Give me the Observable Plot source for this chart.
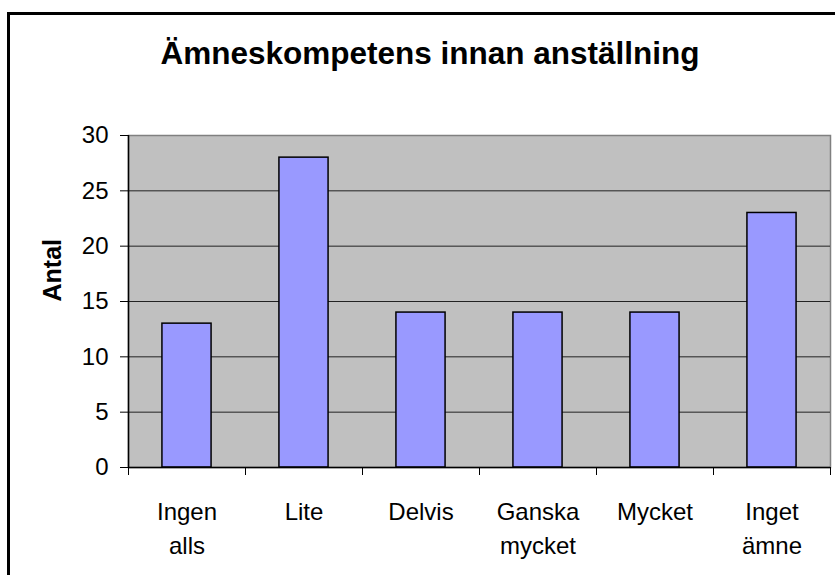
<!DOCTYPE html>
<html>
<head>
<meta charset="utf-8">
<script src="https://cdn.jsdelivr.net/npm/d3@7"></script>
<script src="https://cdn.jsdelivr.net/npm/@observablehq/plot@0.6"></script>
<style>
  html, body { margin: 0; padding: 0; background: #fff; overflow: hidden; width: 835px; height: 575px; }
  #wrap { position: relative; width: 835px; height: 575px; overflow: hidden; }
  #border { position: absolute; left: 7px; top: 12px; width: 1000px; height: 800px; border-top: 3px solid #000; border-left: 3px solid #000; border-right: none; border-bottom: none; box-sizing: border-box; }
  #title { position: absolute; left: 0; top: 37px; width: 835px; padding-left: 25px; box-sizing: border-box; text-align: center; font: bold 31.5px "Liberation Sans", Arial, sans-serif; line-height: 32px; color: #000; }
  #chart { position: absolute; left: 0; top: 0; width: 835px; height: 575px; overflow: hidden; }
  #chart svg { display: block; }
</style>
</head>
<body>
<div id="wrap">
  <div id="border"></div>
  <div id="chart"></div>
  <div id="title"></div>
</div>
<script>
const title = "Ämneskompetens innan anställning";
const yLabel = "Antal";
const categories = ["Ingen\nalls", "Lite", "Delvis", "Ganska\nmycket", "Mycket", "Inget\nämne"];
const values = [13, 28, 14, 14, 14, 23];
const yTicks = [0, 5, 10, 15, 20, 25, 30];
const gridValues = [5, 10, 15, 20, 25];

const data = categories.map((c, i) => ({ label: c, value: values[i], i }));
const xBoundaries = d3.range(0, categories.length + 1);

document.getElementById("title").textContent = title;

const chart = Plot.plot({
  width: 835,
  height: 575,
  marginLeft: 128,
  marginRight: 5,
  marginTop: 135,
  marginBottom: 108,
  style: { fontFamily: "'Liberation Sans', Arial, sans-serif", fontSize: "24px", background: "transparent", color: "#000" },
  x: { type: "linear", domain: [0, categories.length], axis: null },
  y: { domain: [0, 30], axis: null },
  marks: [
    Plot.frame({ fill: "#C0C0C0", stroke: "#808080", strokeWidth: 1.5 }),
    Plot.ruleY(gridValues, { stroke: "#222", strokeWidth: 1 }),
    Plot.rectY(data, { x1: d => d.i + 0.29, x2: d => d.i + 0.71, y1: 0, y2: "value", fill: "#9999FF", stroke: "#000", strokeWidth: 1.5 }),
    Plot.axisY({ ticks: yTicks, tickSize: 8, tickPadding: 12, label: null, stroke: "#000", fill: "#000", fontSize: 24 }),
    Plot.axisX({ ticks: xBoundaries, tickSize: 8, tickFormat: () => "", label: null, stroke: "#000" }),
    Plot.ruleX([0], { stroke: "#000", strokeWidth: 1.5 }),
    Plot.ruleY([0], { stroke: "#000", strokeWidth: 1.5 }),
    Plot.text(data, { x: d => d.i + 0.5, y: 0, text: "label", lineAnchor: "top", dy: 28, lineHeight: 1.42, fill: "#000", fontSize: 24 }),
    Plot.text([yLabel], { frameAnchor: "left", dx: -76, rotate: -90, text: d => d, fontWeight: "bold", fontSize: 25, fill: "#000" })
  ]
});
document.getElementById("chart").appendChild(chart);
</script>
</body>
</html>
